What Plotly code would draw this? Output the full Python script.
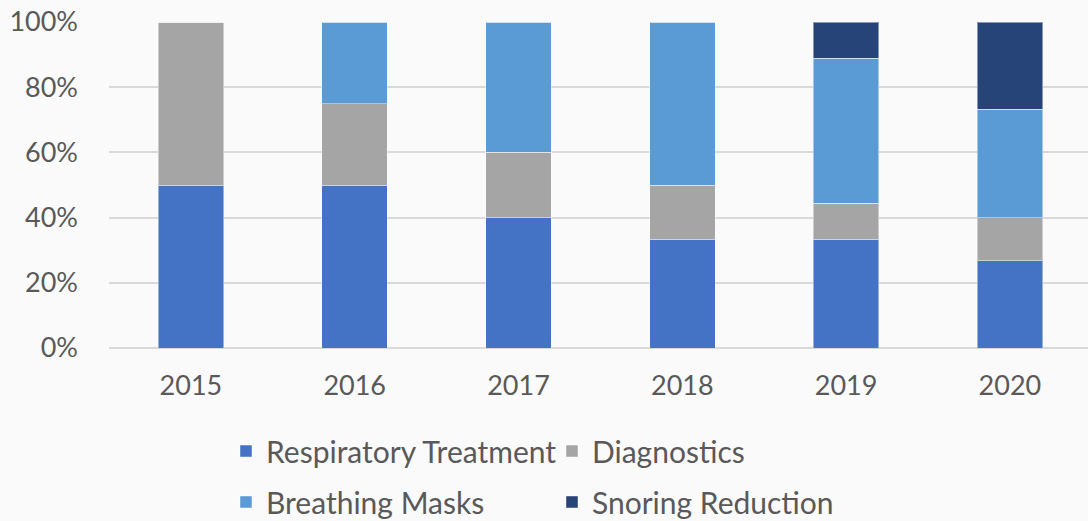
import plotly.graph_objects as go

years = ["2015", "2016", "2017", "2018", "2019", "2020"]
respiratory = [0.50, 0.50, 0.40, 0.333, 0.333, 0.267]
diagnostics = [0.50, 0.25, 0.20, 0.167, 0.111, 0.133]
masks = [0.00, 0.25, 0.40, 0.50, 0.445, 0.333]
snoring = [0.00, 0.00, 0.00, 0.00, 0.111, 0.267]

names = ["Respiratory Treatment", "Diagnostics", "Breathing Masks", "Snoring Reduction"]
colors = ["#4472C4", "#A5A5A5", "#5B9BD5", "#264478"]
series = [respiratory, diagnostics, masks, snoring]
legends = ["legend", "legend", "legend2", "legend2"]

fig = go.Figure()
for name, vals, col, lg in zip(names, series, colors, legends):
    fig.add_trace(go.Bar(
        x=years, y=vals, name=name, legend=lg,
        marker=dict(color=col, line=dict(color="rgba(255,255,255,0.45)", width=1)),
    ))

font = "Lato, Calibri, Carlito, sans-serif"
leg_common = dict(orientation="h", xanchor="left", yanchor="middle", yref="container",
                  font=dict(size=30, color="#595959", family=font),
                  bgcolor="rgba(0,0,0,0)", entrywidth=281, entrywidthmode="pixels",
                  traceorder="normal")
fig.update_layout(
    barmode="stack",
    bargap=0.6,
    width=1088, height=521,
    paper_bgcolor="#FAFAFA", plot_bgcolor="#FAFAFA",
    margin=dict(l=109, r=0, t=22, b=173),
    font=dict(family=font, color="#595959", size=27),
    legend=dict(x=0.1195, y=0.1343, **leg_common),
    legend2=dict(x=0.1195, y=0.0365, **leg_common),
    xaxis=dict(range=[-0.5, 5.477], showgrid=False, showline=False, ticks="",
               tickfont=dict(size=27), ticklabelstandoff=19),
    yaxis=dict(range=[0, 1], dtick=0.2, tickformat=".0%", showgrid=True,
               gridcolor="#D9D9D9", gridwidth=1.5, zeroline=True, zerolinecolor="#D9D9D9",
               zerolinewidth=1.5, tickfont=dict(size=27), ticklabelstandoff=30),
)
fig.write_html("out.html", config={"displayModeBar": False},
               post_script="document.body.style.margin='0';document.body.style.background='#FAFAFA';")
